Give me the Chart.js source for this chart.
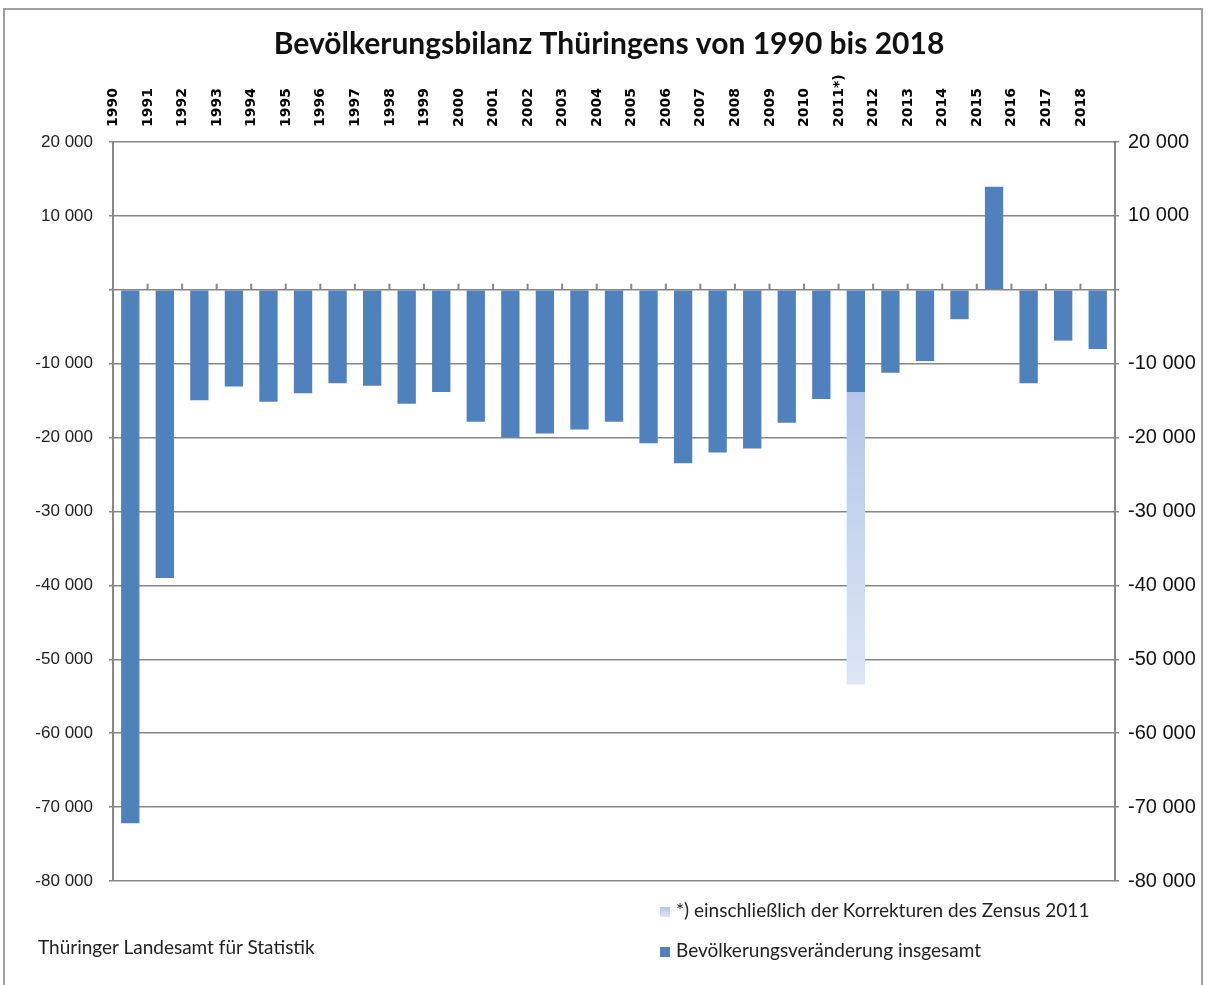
<!DOCTYPE html>
<html>
<head>
<meta charset="utf-8">
<script src="https://cdn.jsdelivr.net/npm/chart.js@4.4.1/dist/chart.umd.min.js"></script>
<style>
  body { margin: 0; background: #fff; }
  #wrap { position: relative; width: 1208px; height: 985px; }
  #frame { position: absolute; left: 3px; top: 8px; width: 1200px; height: 990px; border: 2px solid #a0a0a0; box-sizing: border-box; pointer-events: none; }
  .note { position: absolute; font-family: Lato, "Noto Sans", sans-serif; font-size: 19px; color: #222; white-space: nowrap; }
  .box { display: inline-block; width: 10px; height: 10px; margin-right: 6px; vertical-align: 0px; }
</style>
</head>
<body>
<div id="wrap">
  <canvas id="bilanzChart" width="1208" height="985"></canvas>
  <div id="frame"></div>
  <div class="note" style="left:38px; top:935px;">Thüringer Landesamt für Statistik</div>
  <div class="note" style="left:660px; top:898px;"><span class="box" style="background:linear-gradient(#b3c6e9,#dce5f4);"></span>*) einschließlich der Korrekturen des Zensus 2011</div>
  <div class="note" style="left:660px; top:938px;"><span class="box" style="background:#4f81bd;"></span>Bevölkerungsveränderung insgesamt</div>
</div>
<script>
// Jahre und Werte
const years = ["1990", "1991", "1992", "1993", "1994", "1995", "1996", "1997", "1998", "1999",
  "2000", "2001", "2002", "2003", "2004", "2005", "2006", "2007", "2008", "2009",
  "2010", "2011*)", "2012", "2013", "2014", "2015", "2016", "2017", "2018"];

const change = [-72200, -39000, -14960, -13100, -15150, -14000, -12660, -12980, -15420, -13840,
  -17870, -19990, -19440, -18900, -17870, -20760, -23470, -22030, -21480, -18000,
  -14790, -13840, -11220, -9630, -3980, 13950, -12660, -6880, -8000];

// nur 2011: Korrektur durch den Zensus (unterhalb gestapelt)
const census = [null, null, null, null, null, null, null, null, null, null,
  null, null, null, null, null, null, null, null, null, null,
  null, -39560, null, null, null, null, null, null, null];

const yMin = -80000;
const yMax = 20000;
const yStep = 10000;

const gridColor = "#878787";

function fmt(v) {
  if (v === 0) return "";
  return String(v).replace(/\B(?=(\d{3})+(?!\d))/g, " ");
}

const ctx = document.getElementById("bilanzChart").getContext("2d");
const chart = new Chart(ctx, {
  type: "bar",
  data: {
    labels: years,
    datasets: [
      {
        label: "Bevölkerungsveränderung insgesamt",
        data: change,
        backgroundColor: "#4f81bd",
        barPercentage: 0.53,
        categoryPercentage: 1,
      },
      {
        label: "*) einschließlich der Korrekturen des Zensus 2011",
        data: census,
        backgroundColor: function (context) {
          const chart = context.chart;
          const { ctx, chartArea } = chart;
          if (!chartArea) return "#c5d3ee";
          const y = chart.scales.y;
          const top = y.getPixelForValue(change[21]);
          const bottom = y.getPixelForValue(change[21] + census[21]);
          const g = ctx.createLinearGradient(0, top, 0, bottom);
          g.addColorStop(0, "#b3c6e9");
          g.addColorStop(1, "#dde6f5");
          return g;
        },
        barPercentage: 0.53,
        categoryPercentage: 1,
      },
    ],
  },
  options: {
    responsive: false,
    animation: false,
    layout: { padding: { left: 10, right: 0, top: 0, bottom: 104 } },
    plugins: {
      legend: { display: false },
      tooltip: { enabled: false },
      title: {
        display: true,
        text: "Bevölkerungsbilanz Thüringens von 1990 bis 2018",
        color: "#111",
        font: { family: "Lato, 'Noto Sans', sans-serif", size: 30, weight: "bold" },
        padding: { top: 26, bottom: 10 },
      },
    },
    scales: {
      x: {
        position: "top",
        stacked: true,
        grid: { display: false },
        border: { display: false },
        ticks: {
          minRotation: 90,
          maxRotation: 90,
          autoSkip: false,
          padding: 7,
          color: "#000",
          font: { family: "'DejaVu Sans', sans-serif", size: 14, weight: "bold" },
        },
        afterFit(scale) {
          scale.height = 142 - 72;
        },
      },
      y: {
        position: "left",
        stacked: true,
        min: yMin,
        max: yMax,
        grid: { color: gridColor, lineWidth: 1.5, tickLength: 4 },
        border: { color: gridColor, width: 2 },
        ticks: {
          stepSize: yStep,
          padding: 16,
          color: "#222",
          font: { family: "'Liberation Sans', Arial, sans-serif", size: 17 },
          callback: (v) => fmt(v),
        },
        afterFit(scale) {
          scale.width = 103;
        },
      },
      y2: {
        position: "right",
        min: yMin,
        max: yMax,
        grid: { drawOnChartArea: false, color: gridColor, lineWidth: 1.5, tickLength: 4 },
        border: { color: gridColor, width: 2 },
        ticks: {
          stepSize: yStep,
          padding: 9,
          color: "#111",
          font: { family: "'Liberation Sans', Arial, sans-serif", size: 20 },
          callback: (v) => fmt(v),
        },
        afterFit(scale) {
          scale.width = 93;
        },
      },
    },
  },
  plugins: [
    {
      // kleine Teilstriche an der Nulllinie zwischen den Jahren
      id: "zeroTicks",
      afterDatasetsDraw(chart) {
        const { ctx, scales } = chart;
        const y0 = scales.y.getPixelForValue(0);
        ctx.save();
        ctx.strokeStyle = gridColor;
        ctx.lineWidth = 2;
        ctx.beginPath();
        for (let i = 1; i < years.length; i++) {
          const x = scales.x.getPixelForValue(i - 0.5);
          ctx.moveTo(x, y0);
          ctx.lineTo(x, y0 - 6);
        }
        ctx.stroke();
        ctx.restore();
      },
    },
  ],
});
</script>
</body>
</html>
